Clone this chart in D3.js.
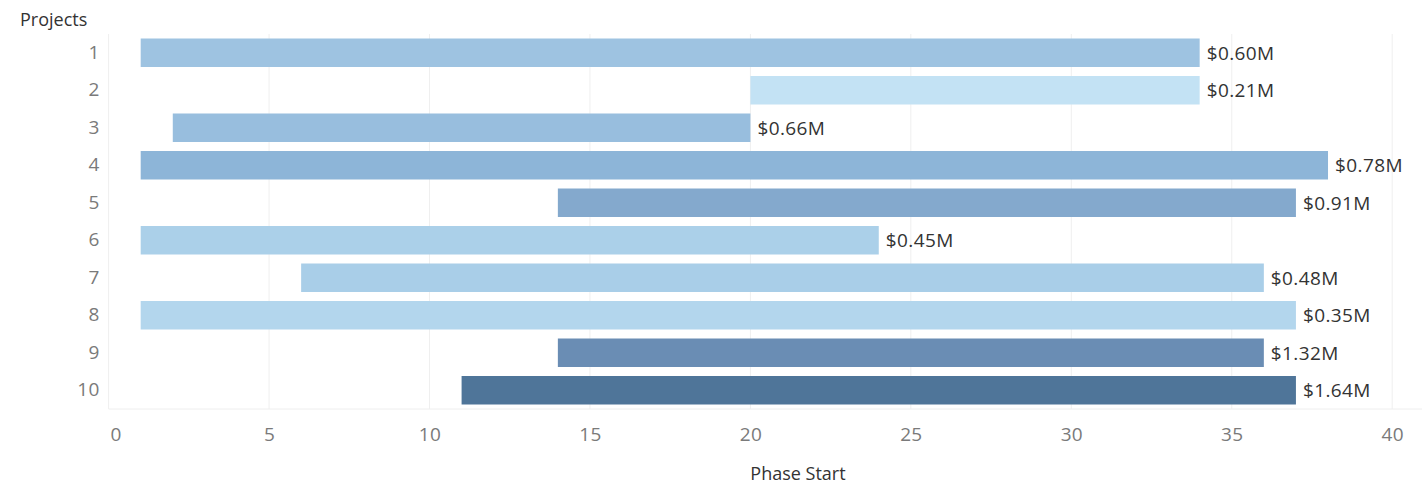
<!DOCTYPE html>
<html>
<head>
<meta charset="utf-8">
<script src="https://cdn.jsdelivr.net/npm/d3@7"></script>
<style>
  html, body { margin: 0; padding: 0; background: #fff; }
  svg { display: block; font-family: "Open Sans", "Lato", sans-serif; }
</style>
</head>
<body>
<svg id="chart" width="1427" height="486"></svg>
<script>
// Project phases: start and end (in weeks) plus cost in $M
const projects   = ["1", "2", "3", "4", "5", "6", "7", "8", "9", "10"];
const phaseStart = [1, 20, 2, 1, 14, 1, 6, 1, 14, 11];
const phaseEnd   = [34, 34, 20, 38, 37, 24, 36, 37, 36, 37];
const costM      = [0.60, 0.21, 0.66, 0.78, 0.91, 0.45, 0.48, 0.35, 1.32, 1.64];
const xTicks     = [0, 5, 10, 15, 20, 25, 30, 35, 40];

const svg = d3.select("#chart");
const margin = { top: 34, right: 36, bottom: 77, left: 108.6 };
const width = 1427, height = 486;

const x = d3.scaleLinear()
  .domain([0, 40])
  .range([margin.left, margin.left + 32.09 * 40]);

const y = d3.scaleBand()
  .domain(projects)
  .range([margin.top, height - margin.bottom])
  .paddingInner(0.24)
  .paddingOuter(0.12);

// sequential blue ramp keyed on cost
const color = d3.scaleLinear()
  .domain([0.21, 0.35, 0.48, 0.60, 0.78, 0.91, 1.32, 1.64])
  .range(["#c3e2f4", "#b3d6ed", "#a9cee8", "#9ec3e1", "#8db5d8", "#84a9cd", "#6a8db4", "#4f7599"])
  .interpolate(d3.interpolateRgb)
  .clamp(true);

const plotTop = margin.top, plotBottom = height - margin.bottom;

// vertical gridlines
svg.append("g")
  .selectAll("line")
  .data(xTicks)
  .join("line")
  .attr("x1", d => x(d)).attr("x2", d => x(d))
  .attr("y1", plotTop).attr("y2", plotBottom)
  .attr("stroke", "#efefef")
  .attr("stroke-width", 1);

// baseline under the plot
svg.append("line")
  .attr("x1", margin.left).attr("x2", width - 5)
  .attr("y1", plotBottom).attr("y2", plotBottom)
  .attr("stroke", "#eeeeee");

const rows = projects.map((p, i) => ({
  project: p, start: phaseStart[i], end: phaseEnd[i], cost: costM[i]
}));

// bars
svg.append("g")
  .selectAll("rect")
  .data(rows)
  .join("rect")
  .attr("x", d => x(d.start))
  .attr("y", d => y(d.project))
  .attr("width", d => x(d.end) - x(d.start))
  .attr("height", y.bandwidth())
  .attr("fill", d => color(d.cost));

// cost labels at the end of each bar
svg.append("g")
  .selectAll("text")
  .data(rows)
  .join("text")
  .attr("x", d => x(d.end) + 7)
  .attr("y", d => y(d.project) + y.bandwidth() / 2)
  .attr("dy", "0.36em")
  .attr("fill", "#333")
  .style("font-size", "19px")
  .style("letter-spacing", "0.4px")
  .text(d => `$${d.cost.toFixed(2)}M`);

// y axis labels
const yAxis = d3.axisLeft(y).tickSize(0).tickPadding(9);
svg.append("g")
  .attr("transform", `translate(${margin.left},0)`)
  .call(yAxis)
  .call(g => g.select(".domain").remove())
  .call(g => g.selectAll("text")
    .attr("fill", "#7a7a7a")
    .style("font-size", "19px")
    .style("letter-spacing", "0.3px")
    .style("font-family", "'Open Sans', sans-serif"));

// x axis labels
const xAxis = d3.axisBottom(x).tickValues(xTicks).tickSize(0).tickPadding(19);
svg.append("g")
  .attr("transform", `translate(0,${plotBottom})`)
  .call(xAxis)
  .call(g => g.select(".domain").remove())
  .call(g => g.selectAll("text")
    .attr("fill", "#7a7a7a")
    .style("font-size", "19px")
    .style("letter-spacing", "0.3px")
    .style("font-family", "'Open Sans', sans-serif")
    .attr("dx", d => d === 0 ? 7 : 0));

// axis titles
svg.append("text")
  .attr("x", 20).attr("y", 26)
  .attr("fill", "#333")
  .style("font-size", "18px")
  .style("font-weight", 500)
  .text("Projects");

svg.append("text")
  .attr("x", 798).attr("y", 480)
  .attr("text-anchor", "middle")
  .attr("fill", "#333")
  .style("font-size", "18px")
  .style("font-weight", 500)
  .text("Phase Start");
</script>
</body>
</html>
